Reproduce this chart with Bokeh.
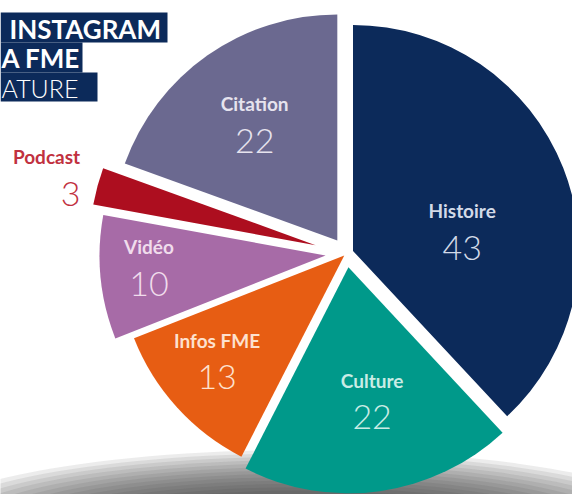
import numpy as np
from bokeh.plotting import figure
from bokeh.models import ColumnDataSource
from bokeh.core.properties import value
from bokeh.embed import file_html
from bokeh.resources import INLINE

# ---- data ----
categories = ["Histoire", "Culture", "Infos FME", "Vidéo", "Podcast", "Citation"]
counts = [43, 22, 13, 10, 3, 22]
title_lines = ["INSTAGRAM", "A FME", "ATURE"]

# ---- style ----
slice_colors = ["#0c2a5a", "#00998a", "#e75d13", "#a76ba7", "#ad0e1f", "#6b6990"]
label_colors = ["#d3dae8", "#c9ece5", "#fde1cf", "#f0dcec", "#c1313f", "#e6e3ee"]
explode = [7, 14, 3, 21, 32, 16]
label_dist = [118, 148, 167, 198, 0, 160]
label_shift = [10, -2, 3, 2, 0, 0]

W, H = 572, 494
cx, cy = 346, H - 253
R = 226

p = figure(width=W, height=H, x_range=(0, W), y_range=(0, H),
           output_backend="svg", toolbar_location=None, min_border=0)
p.axis.visible = False
p.grid.visible = False
p.outline_line_color = None
p.background_fill_color = "white"
p.border_fill_color = "white"

# shadow under the pie
n = 18
for i in range(n):
    f = i / (n - 1)
    p.ellipse(x=[300], y=[H - 532], width=[790 - 430 * f], height=[165 - 115 * f],
              fill_color="#333333", fill_alpha=0.095, line_color=None)

# pie geometry from the values
vals = np.array(counts, dtype=float)
frac = vals / vals.sum()
ends_cw = np.cumsum(frac) * 360.0
starts_cw = ends_cw - frac * 360.0
mids_cw = (starts_cw + ends_cw) / 2
start_math = np.radians(90 - ends_cw)
end_math = np.radians(90 - starts_cw)
mid_rad = np.radians(90 - mids_cw)
ex = np.array(explode, dtype=float)
px = cx + ex * np.cos(mid_rad)
py = cy + ex * np.sin(mid_rad)

src = ColumnDataSource(dict(x=px, y=py, start=start_math, end=end_math,
                            color=slice_colors, name=categories))
p.wedge(x="x", y="y", radius=R, start_angle="start", end_angle="end",
        direction="anticlock", fill_color="color",
        line_color=None, source=src)

# labels
lab_rad = np.radians(90 - (mids_cw + np.array(label_shift)))
ld = np.array(label_dist, dtype=float)
lx = cx + ld * np.cos(lab_rad)
ly = cy + ld * np.sin(lab_rad)
inside = [i for i in range(len(categories)) if categories[i] != "Podcast"]
name_src = ColumnDataSource(dict(x=[lx[i] for i in inside], y=[ly[i] + 19 for i in inside],
                                 t=[categories[i] for i in inside],
                                 c=[label_colors[i] for i in inside]))
val_src = ColumnDataSource(dict(x=[lx[i] for i in inside], y=[ly[i] - 18 for i in inside],
                                t=[str(counts[i]) for i in inside],
                                c=[label_colors[i] for i in inside]))
p.text(x="x", y="y", text="t", text_color="c", source=name_src,
       text_font=value("Lato"), text_font_style="bold", text_font_size=value("19px"),
       text_align="center", text_baseline="middle")
p.text(x="x", y="y", text="t", text_color="c", source=val_src,
       text_font=value("Lato Light"), text_font_size=value("34px"),
       text_align="center", text_baseline="middle")

# Podcast label outside the pie
ip = categories.index("Podcast")
p.text(x=[46], y=[H - 156], text=[categories[ip]], text_color=label_colors[ip],
       text_font=value("Lato"), text_font_style="bold", text_font_size=value("19px"),
       text_align="center", text_baseline="middle")
p.text(x=[80], y=[H - 193], text=[str(counts[ip])], text_color=label_colors[ip],
       text_font=value("Lato Light"), text_font_size=value("34px"),
       text_align="right", text_baseline="middle")

# title block
p.quad(left=[0, 0, 0], right=[167, 82, 97], top=[H - 12, H - 42, H - 72],
       bottom=[H - 42, H - 72, H - 101], fill_color="#0c2a5a", line_color=None)
p.text(x=[9], y=[H - 28], text=[title_lines[0]], text_color="white",
       text_font=value("Lato"), text_font_style="bold", text_font_size=value("26px"),
       text_align="left", text_baseline="middle")
p.text(x=[1], y=[H - 57], text=[title_lines[1]], text_color="white",
       text_font=value("Lato"), text_font_style="bold", text_font_size=value("26px"),
       text_align="left", text_baseline="middle")
p.text(x=[1], y=[H - 87], text=[title_lines[2]], text_color="white",
       text_font=value("Lato Light"), text_font_size=value("25px"),
       text_align="left", text_baseline="middle")

open("out.html", "w").write(file_html(p, INLINE))
